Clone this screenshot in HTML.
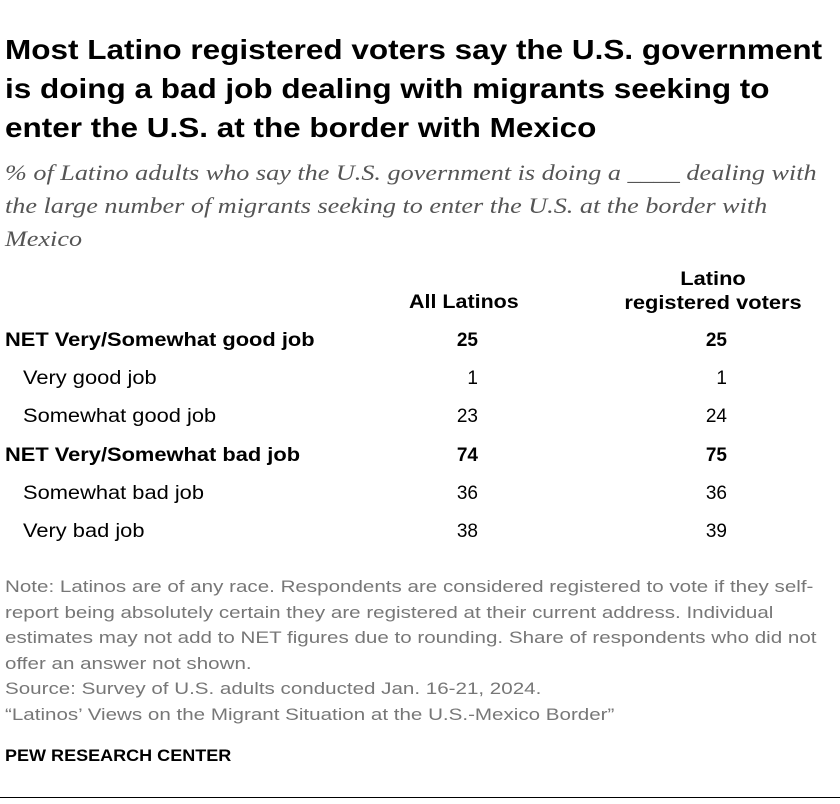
<!DOCTYPE html>
<html><head><meta charset="utf-8"><style>
body{margin:0;background:#fff;width:840px;height:804px;position:relative;overflow:hidden;font-family:"Liberation Sans",Arial,sans-serif;color:#000}
.a{position:absolute;white-space:nowrap}
h1{position:absolute;left:5px;top:30px;margin:0;font-size:27.5px;line-height:39px;font-weight:bold;white-space:nowrap;transform:scaleX(1.145);transform-origin:0 0}
.sub{position:absolute;left:5px;top:156px;font-family:"Liberation Serif",serif;font-style:italic;font-size:22px;line-height:33px;color:#555;white-space:nowrap;transform:scaleX(1.19);transform-origin:0 0}
.row{position:absolute;left:0;width:840px;height:30px;font-size:19px;line-height:30px}
.row .l{position:absolute;left:5px;transform:scaleX(1.15);transform-origin:0 0}
.row .l.ind{left:23px}
.row .v1{position:absolute;right:362px}
.row .v2{position:absolute;right:113px}
.b{font-weight:bold}
.note{position:absolute;left:5px;top:574px;font-size:17px;line-height:25.5px;color:#777;white-space:nowrap;transform:scaleX(1.21);transform-origin:0 0}
</style></head><body>
<h1>Most Latino registered voters say the U.S. government<br>is doing a bad job dealing with migrants seeking to<br>enter the U.S. at the border with Mexico</h1>
<div class="sub">% of Latino adults who say the U.S. government is doing a ____ dealing with<br>the large number of migrants seeking to enter the U.S. at the border with<br>Mexico</div>
<div class="a b" style="left:409px;top:291px;font-size:19px;line-height:24px;transform:scaleX(1.13);transform-origin:0 0">All Latinos</div>
<div class="a b" style="left:618px;top:268px;font-size:19px;line-height:24px;text-align:center;width:190px;transform:scaleX(1.15);transform-origin:50% 0">Latino<br>registered voters</div>
<div id="rows"></div>
<div class="note">Note: Latinos are of any race. Respondents are considered registered to vote if they self-<br>report being absolutely certain they are registered at their current address. Individual<br>estimates may not add to NET figures due to rounding. Share of respondents who did not<br>offer an answer not shown.<br>Source: Survey of U.S. adults conducted Jan. 16-21, 2024.<br>“Latinos’ Views on the Migrant Situation at the U.S.-Mexico Border”</div>
<div class="a b" style="left:5px;top:746px;font-size:17px;transform:scaleX(1.06);transform-origin:0 0">PEW RESEARCH CENTER</div>
<div class="a" style="left:0;top:797px;width:840px;height:1px;background:#000"></div>
<script>
const categories=["NET Very/Somewhat good job","Very good job","Somewhat good job","NET Very/Somewhat bad job","Somewhat bad job","Very bad job"];
const allLatinos=[25,1,23,74,36,38];
const registeredVoters=[25,1,24,75,36,39];
const isNet=[true,false,false,true,false,false];
const c=document.getElementById('rows');
categories.forEach((cat,i)=>{
  const r=document.createElement('div');
  r.className='row'+(isNet[i]?' b':'');
  r.style.top=(326+i*38.2)+'px';
  
  
  r.innerHTML='<span class="l'+(isNet[i]?'':' ind')+'">'+cat+'</span><span class="v1">'+allLatinos[i]+'</span><span class="v2">'+registeredVoters[i]+'</span>';
  c.appendChild(r);
});
</script>
</body></html>
